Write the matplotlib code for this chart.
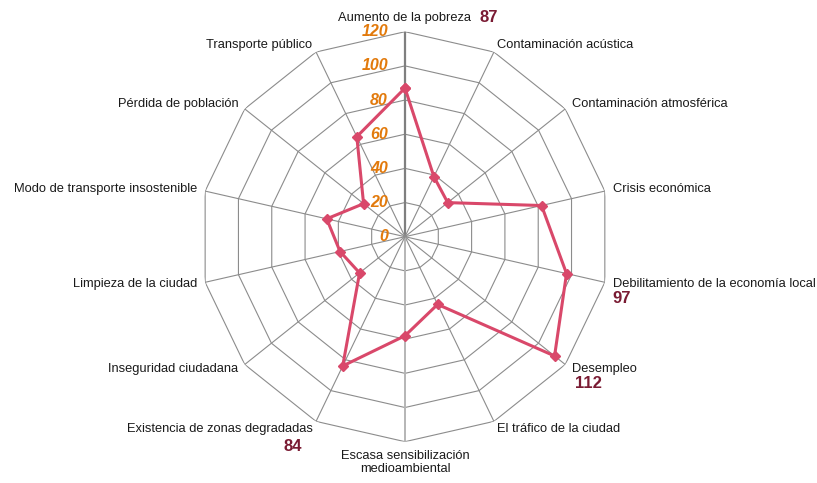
import numpy as np
import matplotlib
matplotlib.use("Agg")
import matplotlib.pyplot as plt

plt.rcParams['font.family'] = ['Liberation Sans', 'DejaVu Sans']

# Problemas percibidos en la ciudad (puntuación 0-120)
categories = [
    "Aumento de la pobreza",
    "Contaminación acústica",
    "Contaminación atmosférica",
    "Crisis económica",
    "Debilitamiento de la economía local",
    "Desempleo",
    "El tráfico de la ciudad",
    "Escasa sensibilización\nmedioambiental",
    "Existencia de zonas degradadas",
    "Inseguridad ciudadana",
    "Limpieza de la ciudad",
    "Modo de transporte insostenible",
    "Pérdida de población",
    "Transporte público",
]
values = [87, 39, 32, 82, 97, 112, 44, 58, 84, 34, 39, 47, 31, 65]
r_ticks = [0, 20, 40, 60, 80, 100, 120]
# categories whose value is written next to the label
labeled = [0, 4, 5, 8]
# pixel offsets of those value labels from the outer vertex
value_offsets = {0: (75, 14, 'left'), 4: (8, -16, 'left'),
                 5: (10, -19, 'left'), 8: (-14, -25, 'right')}

line_color = '#D9486A'
value_color = '#7A1B33'
tick_color = '#E27A0C'
grid_color = '#8C8C8C'

n = len(categories)
angles = np.arange(n) * 2 * np.pi / n
r_max = r_ticks[-1]

fig = plt.figure(figsize=(8.17, 4.83), dpi=100)
ax = fig.add_axes([0.2448, 0.0855, 0.5018, 0.8489], projection='polar')
ax.set_theta_zero_location('N')
ax.set_theta_direction(-1)
ax.set_ylim(0, r_max)
ax.grid(False)
ax.set_xticks([])
ax.set_yticks([])
ax.spines['polar'].set_visible(False)
ax.patch.set_visible(False)

# polygon rings
ring_theta = np.append(angles, angles[0])
for r in r_ticks[1:]:
    ax.plot(ring_theta, [r] * (n + 1), color=grid_color, lw=0.8, zorder=1)

# spokes
for i, a in enumerate(angles):
    if i == 0:
        ax.plot([a, a], [0, r_max], color='#7F7F7F', lw=1.6, zorder=1)
    elif i == 7:
        ax.plot([a, a], [0, r_max], color='#B5B5B5', lw=1.4, zorder=1)
    else:
        ax.plot([a, a], [0, r_max], color=grid_color, lw=0.8, zorder=1)

# data series
vals = np.append(values, values[0])
ax.plot(ring_theta, vals, color=line_color, lw=2.2, marker='D',
        markersize=5.5, zorder=3)

# radial tick labels
for t in r_ticks:
    ax.annotate(str(t), xy=(0, t), xytext=(-17, 0), textcoords='offset pixels',
                ha='right', va='center', fontsize=11.5, fontweight='bold',
                fontstyle='italic', color=tick_color, annotation_clip=False,
                zorder=4)

# category labels
for i, (a, lab) in enumerate(zip(angles, categories)):
    s, c = np.sin(a), np.cos(a)
    if abs(s) < 0.01:
        ha = 'center'
        va = 'bottom' if c > 0 else 'top'
    else:
        ha = 'left' if s > 0 else 'right'
        va = 'center'
    ax.annotate(lab, xy=(a, r_max), xytext=(8 * s, 8 * c),
                textcoords='offset pixels', ha=ha, va=va, fontsize=9.3,
                color='#1A1A1A', multialignment='center',
                annotation_clip=False)

# value labels for the highest scores
for i in labeled:
    dx, dy, ha = value_offsets[i]
    ax.annotate(str(values[i]), xy=(angles[i], r_max), xytext=(dx, dy),
                textcoords='offset pixels', ha=ha, va='center', fontsize=12,
                fontweight='bold', color=value_color, annotation_clip=False)

fig.savefig('out.png', dpi=100)
